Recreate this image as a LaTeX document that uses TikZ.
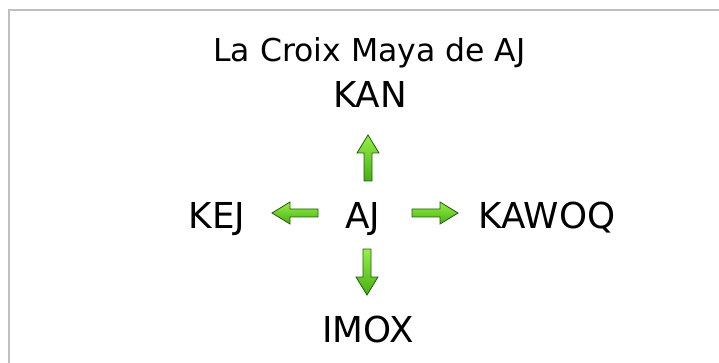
\documentclass[tikz,border=0pt]{standalone}
\usepackage{fontspec}
\setmainfont{DejaVu Sans}
\usepackage{tikz}
\usetikzlibrary{calc, positioning}

\definecolor{vertclair}{RGB}{150,240,70}
\definecolor{vertfonce}{RGB}{70,175,20}
\definecolor{vertbord}{RGB}{35,90,10}

\tikzset{
  mot/.style = {anchor=base, inner sep=0pt, font=\fontsize{35.7}{40}\selectfont},
  titre/.style = {anchor=base, inner sep=0pt, font=\fontsize{31.5}{36}\selectfont},
  cadre/.style = {draw=black!25, line width=1.5pt},
  fleche/.pic = {
    \shadedraw[top color=vertclair, bottom color=vertfonce, draw=vertbord, line width=0.8pt]
      (0,0) -- (-18,11) -- (-18,4) -- (-46,4) -- (-46,-4) -- (-18,-4) -- (-18,-11) -- cycle;
  }
}

\begin{document}
\begin{tikzpicture}[x=1pt, y=1pt]
            \useasboundingbox (0,0) rectangle (719,-363);
            \draw[cadre] (9,-363) -- (9,-10) -- (719,-10);

            \node[titre] (croix) at (369.5,-62) {La Croix Maya de AJ};
            \node[mot] (kan) at (370,-108) {KAN};
            \node[mot] (kej) at (217,-228) {KEJ};
            \node[mot] (aj) at (362.5,-228) {AJ};
            \node[mot] (kawoq) at (547,-228) {KAWOQ};
            \node[mot] (imox) at (368,-342) {IMOX};

            % pointes des fleches
            \coordinate (haut) at (368,-135);
            \coordinate (gauche) at (272,-213);
            \coordinate (droite) at (458,-213);
            \coordinate (bas) at (367,-295);
            \pic[rotate=90] at (haut) {fleche};
            \pic[rotate=180] at (gauche) {fleche};
            \pic at (droite) {fleche};
            \pic[rotate=-90] at (bas) {fleche};
        \end{tikzpicture}
\end{document}
